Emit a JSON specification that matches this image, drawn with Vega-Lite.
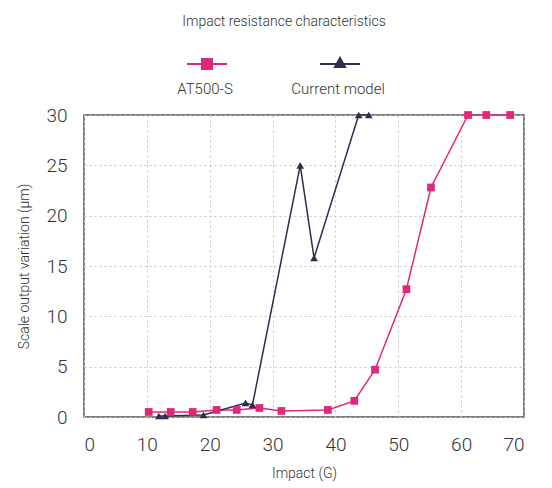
{
  "$schema": "https://vega.github.io/schema/vega-lite/v6.json",
  "autosize": "none",
  "width": 440,
  "height": 302,
  "padding": {"left": 84, "top": 115, "right": 28, "bottom": 71},
  "background": "white",
  "title": {
    "text": "Impact resistance characteristics",
    "anchor": "middle",
    "orient": "top",
    "dx": -20,
    "offset": 14,
    "fontSize": 14,
    "fontWeight": 300,
    "color": "#333"
  },
  "config": {
    "font": "Roboto",
    "view": {"stroke": "#555", "strokeWidth": 1.5},
    "axis": {
      "domain": false,
      "ticks": false,
      "grid": true,
      "gridColor": "#c4c4c4",
      "gridDash": [2, 3],
      "gridWidth": 1,
      "labelFontSize": 19,
      "labelFontWeight": 300,
      "labelColor": "#333",
      "titleFontSize": 14,
      "titleFontWeight": 300,
      "titleColor": "#333"
    }
  },
  "data": {
    "values": [
      {"series": "AT500-S", "impact": 10.3, "variation": 0.5},
      {"series": "AT500-S", "impact": 13.8, "variation": 0.5},
      {"series": "AT500-S", "impact": 17.3, "variation": 0.5},
      {"series": "AT500-S", "impact": 21.1, "variation": 0.7},
      {"series": "AT500-S", "impact": 24.3, "variation": 0.7},
      {"series": "AT500-S", "impact": 27.9, "variation": 0.9},
      {"series": "AT500-S", "impact": 31.4, "variation": 0.6},
      {"series": "AT500-S", "impact": 38.8, "variation": 0.7},
      {"series": "AT500-S", "impact": 43.0, "variation": 1.6},
      {"series": "AT500-S", "impact": 46.3, "variation": 4.7},
      {"series": "AT500-S", "impact": 51.3, "variation": 12.7},
      {"series": "AT500-S", "impact": 55.2, "variation": 22.8},
      {"series": "AT500-S", "impact": 61.1, "variation": 30},
      {"series": "AT500-S", "impact": 64.0, "variation": 30},
      {"series": "AT500-S", "impact": 67.8, "variation": 30},
      {"series": "Current model", "impact": 11.9, "variation": 0.1},
      {"series": "Current model", "impact": 12.9, "variation": 0.1},
      {"series": "Current model", "impact": 19.0, "variation": 0.2},
      {"series": "Current model", "impact": 25.7, "variation": 1.4},
      {"series": "Current model", "impact": 26.8, "variation": 1.2},
      {"series": "Current model", "impact": 34.4, "variation": 25},
      {"series": "Current model", "impact": 36.6, "variation": 15.8},
      {"series": "Current model", "impact": 43.7, "variation": 30},
      {"series": "Current model", "impact": 45.3, "variation": 30}
    ]
  },
  "encoding": {
    "x": {
      "field": "impact",
      "type": "quantitative",
      "scale": {"domain": [0, 70], "nice": false},
      "axis": {"values": [0, 10, 20, 30, 40, 50, 60, 70], "title": "Impact (G)", "labelPadding": 18, "titlePadding": 12}
    },
    "y": {
      "field": "variation",
      "type": "quantitative",
      "scale": {"domain": [0, 30], "nice": false},
      "axis": {"values": [0, 5, 10, 15, 20, 25, 30], "title": "Scale output variation (µm)", "labelPadding": 17, "titlePadding": 14}
    },
    "color": {
      "field": "series",
      "type": "nominal",
      "scale": {"domain": ["AT500-S", "Current model"], "range": ["#e0287a", "#2b2e4e"]},
      "legend": {
        "title": null,
        "orient": "none",
        "legendX": 102,
        "legendY": -72,
        "direction": "horizontal",
        "symbolSize": 1600,
        "symbolStrokeWidth": 2,
        "columnPadding": 58,
        "labelFontSize": 15,
        "labelFontWeight": 300,
        "labelColor": "#333",
        "labelAlign": "center",
        "labelLimit": 200,
        "encode": {
          "symbols": {
            "update": {
              "shape": {"signal": "datum.value === 'AT500-S' ? 'M-1,0L1,0M-0.25,-0.25L0.25,-0.25L0.25,0.25L-0.25,0.25Z' : 'M-1,0L1,0M0,-0.3L0.25,0.15L-0.25,0.15Z'"},
              "fill": {"scale": "color", "field": "value"},
              "stroke": {"scale": "color", "field": "value"}
            }
          },
          "labels": {
            "update": {
              "dx": {"value": -27},
              "dy": {"value": 25}
            }
          }
        }
      }
    }
  },
  "layer": [
    {
      "mark": {"type": "line", "strokeWidth": 1.5}
    },
    {
      "transform": [{"filter": "datum.series === 'AT500-S'"}],
      "mark": {"type": "point", "filled": true, "opacity": 1, "size": 60, "shape": "square"}
    },
    {
      "transform": [{"filter": "datum.series === 'Current model'"}],
      "mark": {"type": "point", "filled": true, "opacity": 1, "size": 60, "shape": "triangle-up"}
    }
  ]
}
